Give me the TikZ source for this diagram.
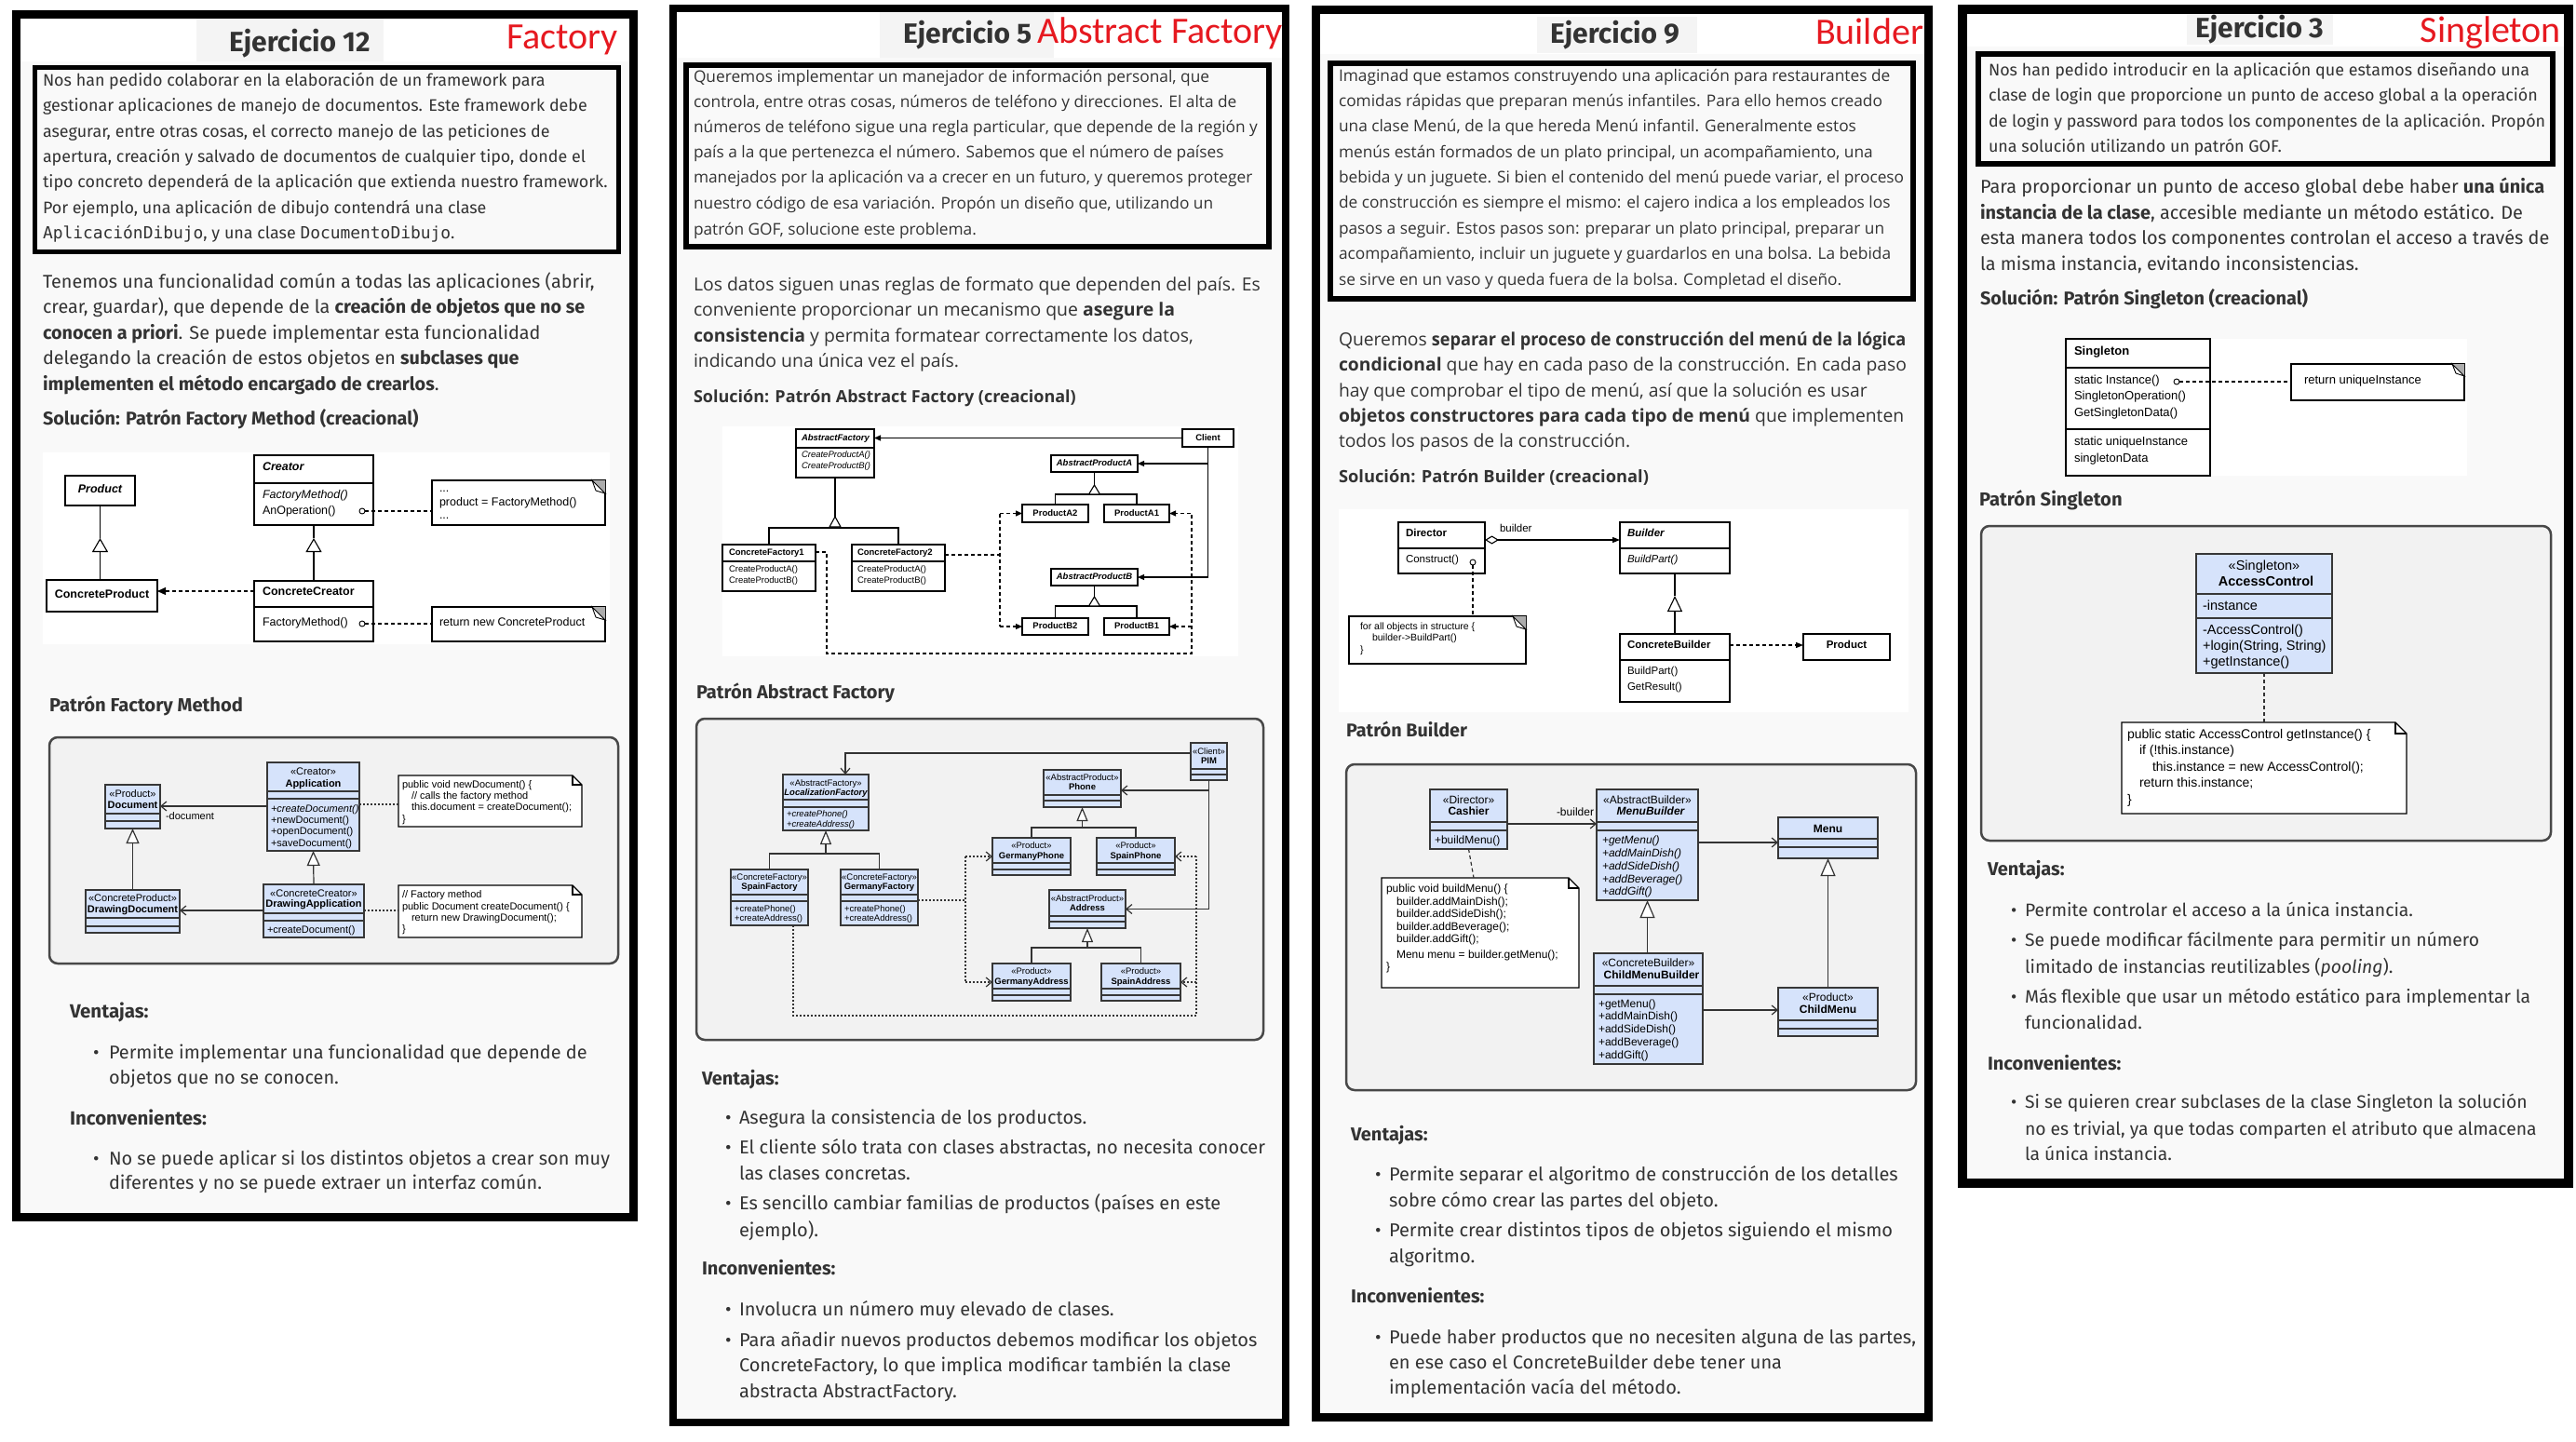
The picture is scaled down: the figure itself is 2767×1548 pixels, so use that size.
\documentclass[tikz,border=0pt]{standalone}
\usepackage{fontspec}
\usepackage{graphicx}
\usetikzlibrary{arrows.meta,fit}
\setmainfont{Fira Sans}
\setmonofont{DejaVu Sans Mono}
\newfontfamily\osans{Open Sans}
\newfontfamily\lsans{Liberation Sans}
\newfontfamily\carl{Carlito}
\definecolor{txt}{RGB}{51,51,51}
\definecolor{redl}{RGB}{230,25,32}
\definecolor{clsb}{RGB}{214,227,251}
\definecolor{clsd}{RGB}{55,55,55}
\definecolor{secg}{RGB}{249,249,249}
\definecolor{ttlg}{RGB}{244,244,244}
\definecolor{boxg}{RGB}{242,242,242}
\definecolor{boxd}{RGB}{72,72,72}
\newcommand\fs[1]{\fontsize{#1}{#1}\selectfont}
\newcounter{qtl}
\newcommand\qL[4][]{\stepcounter{qtl}\node[anchor=mid west,#1] (tl\theqtl) at (#2,#3) {#4};}
\newcommand\qC[4][]{\stepcounter{qtl}\node[anchor=mid,#1] (tl\theqtl) at (#2,#3) {#4};}
\newcommand\qR[4][]{\stepcounter{qtl}\node[anchor=mid east,#1] (tl\theqtl) at (#2,#3) {#4};}
\newcommand\qBL[4][]{\stepcounter{qtl}\node[anchor=base west,#1] (tl\theqtl) at (#2,#3) {#4};}
\newcommand\qBR[4][]{\stepcounter{qtl}\node[anchor=base east,#1] (tl\theqtl) at (#2,#3) {#4};}
\newcommand\qBI[4]{\qL{#1}{#3}{•}\qL{#2}{#3}{#4}}
\newcommand\qCB[6]{\node[#2,fit={(#3,#4)(#5,#6)}] (#1) {};}
\newcommand\qDV[3][dv]{\draw[#1] (#2.west |- 0,#3) -- (#2.east |- 0,#3);}
\newcommand\qTRI[4]{\draw[gln,fill=white] (#1,#2) -- ++(-#4,#3) -- ++(2*#4,0) -- cycle;}
\newcommand\qGN[6]{%
 \node[note,fit={(#2,#3)(#4,#5)}] (#1) {};%
 \pgfmathsetmacro\nxa{#4-#6}\pgfmathsetmacro\nyb{#3+#6}%
 \fill[gray!65] (\nxa,#3) -- (#4,#3) -- (#4,\nyb) -- cycle;%
 \draw[line width=0.9pt,fill=white] (\nxa,#3) -- (#4,\nyb) -- (\nxa+4,\nyb-3) -- cycle;}
\newcommand\qMN[6]{%
 \node[fit={(#2,#3)(#4,#5)}] (#1) {};%
 \pgfmathsetmacro\nxa{#4-#6}\pgfmathsetmacro\nyb{#3+#6}%
 \draw[note] (#2,#3) -- (\nxa,#3) -- (#4,\nyb) -- (#4,#5) -- (#2,#5) -- cycle;%
 \draw[line width=1.1pt] (\nxa,#3) -- (\nxa,\nyb) -- (#4,\nyb);}
\tikzset{
 gof/.style={draw=black,fill=white,line width=1.2pt},
 cls/.style={draw=clsd,fill=clsb,line width=1.2pt},
 gdv/.style={draw=black,line width=1.1pt},
 dv/.style={draw=clsd,line width=1.2pt},
 gln/.style={draw=black,line width=1.1pt},
 mln/.style={draw=black!80,line width=1.2pt},
 gdsh/.style={gln,dash pattern=on 4pt off 3pt},
 dotl/.style={mln,dash pattern=on 2pt off 2pt},
 dashM/.style={mln,dash pattern=on 4pt off 3pt},
 oarr/.style={-{Straight Barb[length=6pt,width=10pt]}},
 farr/.style={-{Triangle[length=7pt,width=6pt]}},
 assoc/.style={mln,oarr},
 genA/.style={gln,-{Triangle[open,fill=white,length=15pt,width=17pt]}},
 genB/.style={mln,-{Triangle[open,fill=white,length=16pt,width=14pt]}},
 genC/.style={mln,-{Triangle[open,fill=white,length=15pt,width=12pt]}},
 genD/.style={gln,-{Triangle[open,fill=white,length=17pt,width=16pt]}},
 genE/.style={mln,-{Triangle[open,fill=white,length=19pt,width=16pt]}},
 rbox/.style={draw=boxd,fill=boxg,line width=2.5pt,rounded corners=9pt},
 cir/.style={circle,draw=black,fill=white,line width=0.9pt,minimum size=6pt,inner sep=0pt},
 note/.style={draw=black,fill=white,line width=1.1pt},
}
\begin{document}
\begin{tikzpicture}[x=1pt,y=-1pt,every node/.style={inner sep=0pt,outer sep=0pt}]
\useasboundingbox (0,0) rectangle (2767,1548);
\fill[white] (0,0) rectangle (2767,1548);
% ---------- panel backgrounds ----------
\fill[secg] (22,66) rectangle (676,1303);
\fill[ttlg] (211,20) rectangle (412,66);
\fill[secg] (727,62) rectangle (1377,1524);
\fill[ttlg] (945,13) rectangle (1132,62);
\fill[secg] (1418,58) rectangle (2067,1518);
\fill[ttlg] (1651,18) rectangle (1823,57);
\fill[secg] (2113,50) rectangle (2754,1266);
\fill[ttlg] (2349,15) rectangle (2506,48);
% white diagram images
\fill[white] (46,486) rectangle (655,692);
\fill[white] (776,458) rectangle (1330,705);
\fill[white] (1438,547) rectangle (2050,765);
\fill[white] (2219,364) rectangle (2650,511);
% panel borders
\draw[line width=9pt] (17.5,15.5) rectangle (680.5,1307.5);
\draw[line width=8pt] (723,9) rectangle (1381,1528);
\draw[line width=9pt] (1413.5,10.5) rectangle (2071.5,1522.5);
\draw[line width=10pt] (2108,10) rectangle (2759,1271);
% description boxes
\draw[line width=5pt,fill=secg] (37.5,72.5) rectangle (664.5,270.5);
\draw[line width=6pt,fill=secg] (737,70) rectangle (1363,265);
\draw[line width=6pt,fill=secg] (1429,68) rectangle (2055,321);
\draw[line width=6pt,fill=secg] (2125,58) rectangle (2742,176);
% rounded diagram boxes
\draw[rbox] (53,792) rectangle (664,1035);
\draw[rbox] (748,772) rectangle (1357,1117);
\draw[rbox] (1446,821) rectangle (2058,1171);
\draw[rbox] (2128,565) rectangle (2740,903);

% ---------- titles ----------
\begin{scope}[every node/.append style={text=txt}]
\qBL[font=\bfseries\fs{30}]{246}{55}{Ejercicio 12}
\qBL[font=\bfseries\fs{30}]{970}{46}{Ejercicio 5}
\qBL[font=\bfseries\fs{30}]{1665}{46}{Ejercicio 9}
\qBL[font=\bfseries\fs{30}]{2358}{40}{Ejercicio 3}
\end{scope}
\begin{scope}[every node/.append style={text=redl}]
\qBR[font=\carl\fs{40}]{664}{52}{Factory}
\qBR[font=\carl\fs{40}]{1378}{46}{Abstract Factory}
\qBR[font=\carl\fs{40}]{2066}{47}{Builder}
\qBR[font=\carl\fs{40}]{2751}{45}{Singleton}
\end{scope}

% ================= PANEL 1 =================
\begin{scope}[font=\fs{17.9},every node/.append style={text=txt}]
\qL{46}{90}{Nos han pedido colaborar en la elaboración de un framework para}
\qL{46}{117}{gestionar aplicaciones de manejo de documentos. Este framework debe}
\qL{46}{145}{asegurar, entre otras cosas, el correcto manejo de las peticiones de}
\qL{46}{172}{apertura, creación y salvado de documentos de cualquier tipo, donde el}
\qL{46}{199}{tipo concreto dependerá de la aplicación que extienda nuestro framework.}
\qL{46}{227}{Por ejemplo, una aplicación de dibujo contendrá una clase}
\qL{46}{254}{\texttt{AplicaciónDibujo}, y una clase \texttt{DocumentoDibujo}.}
\end{scope}
\begin{scope}[font=\fs{19.8},every node/.append style={text=txt}]
\qL{46}{307}{Tenemos una funcionalidad común a todas las aplicaciones (abrir,}
\qL{46}{334}{crear, guardar), que depende de la \textbf{creación de objetos que no se}}
\qL{46}{362}{\textbf{conocen a priori}. Se puede implementar esta funcionalidad}
\qL{46}{389}{delegando la creación de estos objetos en \textbf{subclases que}}
\qL{46}{417}{\textbf{implementen el método encargado de crearlos}.}
\qL{46}{454}{\bfseries\fs{19.8}Solución: Patrón Factory Method (creacional)}
\qL{53}{762}{\bfseries\fs{20.2}Patrón Factory Method}
\end{scope}
% GoF factory method
\qCB{P1prod}{gof}{70}{511}{145}{543}
\qCB{P1cprod}{gof}{50}{623}{169}{657}
\qCB{P1crt}{gof}{273}{489}{401}{564}
\qDV[gdv]{P1crt}{519}
\qCB{P1ccrt}{gof}{273}{624}{401}{689}
\qDV[gdv]{P1ccrt}{652}
\qGN{P1n1}{464}{516}{650}{564}{14}
\qGN{P1n2}{464}{652}{650}{689}{14}
\begin{scope}[font=\lsans\fs{12.5}]
\qC{107.5}{527}{\bfseries\itshape Product}
\qC{109.5}{640}{\bfseries ConcreteProduct}
\qL{282}{503}{\bfseries\itshape Creator}
\qL{282}{533}{\itshape FactoryMethod()}
\qL{282}{550}{AnOperation()}
\qL{282}{637}{\bfseries ConcreteCreator}
\qL{282}{670}{FactoryMethod()}
\qL{472}{526}{...}
\qL{472}{541}{product = FactoryMethod()}
\qL{472}{555}{...}
\qL{472}{670}{return new ConcreteProduct}
\end{scope}
\draw[gln] (P1prod.south) -- (P1prod.south |- 0,578);
\draw[genA] (P1prod.south |- P1cprod.north) -- (P1prod.south |- 0,578);
\draw[gln] (P1crt.south) -- (P1crt.south |- 0,578);
\draw[genA] (P1ccrt.north) -- (P1crt.south |- 0,578);
\draw[gdsh,-{Triangle[length=9pt,width=8pt]}] (P1ccrt.west |- 0,635) -- (P1cprod.east |- 0,635);
\node[cir] (P1c1) at (389,549) {};
\node[cir] (P1c2) at (389,670) {};
\draw[gdsh] (P1c1.east) -- (P1n1.west |- P1c1.east);
\draw[gdsh] (P1c2.east) -- (P1n2.west |- P1c2.east);
% modern factory method
\qCB{P1doc}{cls}{113}{843}{172}{890}
\qDV{P1doc}{874}\qDV{P1doc}{882}
\qCB{P1app}{cls}{287}{819}{386}{914}
\qDV{P1app}{850}\qDV{P1app}{858}
\qCB{P1dd}{cls}{92}{956}{193}{1002}
\qDV{P1dd}{986}\qDV{P1dd}{995}
\qCB{P1da}{cls}{283}{950}{391}{1007}
\qDV{P1da}{981}\qDV{P1da}{989}
\qMN{P1na}{428}{833}{625}{888}{10}
\qMN{P1nb}{428}{951}{625}{1007}{10}
\begin{scope}[font=\lsans\fs{11}]
\qC{142.5}{854}{«Product»}
\qC{142.5}{866}{\bfseries Document}
\qC{336.5}{830}{«Creator»}
\qC{336.5}{843}{\bfseries Application}
\qL{291}{870}{\itshape +createDocument()}
\qL{291}{882}{+newDocument()}
\qL{291}{894}{+openDocument()}
\qL{291}{907}{+saveDocument()}
\qC{142.5}{966}{«ConcreteProduct»}
\qC{142.5}{978}{\bfseries DrawingDocument}
\qC{337}{961}{«ConcreteCreator»}
\qC{337}{972}{\bfseries DrawingApplication}
\qL{287}{1000}{+createDocument()}
\qL{178}{878}{-document}
\qL{432}{844}{public void newDocument() \{}
\qL{442}{856}{// calls the factory method}
\qL{442}{868}{this.document = createDocument();}
\qL{432}{881}{\}}
\qL{432}{962}{// Factory method}
\qL{432}{975}{public Document createDocument() \{}
\qL{442}{987}{return new DrawingDocument();}
\qL{432}{999}{\}}
\end{scope}
\draw[assoc] (P1app.west |- 0,866) -- (P1doc.east |- 0,866);
\draw[genB] (P1dd.north) -- (P1doc.south);
\draw[genB] (P1da.north) -- (P1app.south);
\draw[assoc] (P1da.west |- 0,978) -- (P1dd.east |- 0,978);
\draw[dotl] (P1app.east |- 0,864) -- (P1na.west |- 0,864);
\draw[dotl] (P1da.east |- 0,978) -- (P1nb.west |- 0,978);
\begin{scope}[font=\fs{19.9},every node/.append style={text=txt}]
\qL{75}{1091}{\bfseries\fs{20.5}Ventajas:}
\qBI{100}{117}{1135}{Permite implementar una funcionalidad que depende de}
\qL{117}{1162}{objetos que no se conocen.}
\qL{75}{1206}{\bfseries\fs{20.5}Inconvenientes:}
\qBI{100}{117}{1249}{No se puede aplicar si los distintos objetos a crear son muy}
\qL{117}{1275}{diferentes y no se puede extraer un interfaz común.}
\end{scope}

% ================= PANEL 2 =================
\begin{scope}[font=\osans\fs{17.3},every node/.append style={text=txt}]
\qL{745}{86}{Queremos implementar un manejador de información personal, que}
\qL{745}{113}{controla, entre otras cosas, números de teléfono y direcciones. El alta de}
\qL{745}{140}{números de teléfono sigue una regla particular, que depende de la región y}
\qL{745}{167}{país a la que pertenezca el número. Sabemos que el número de países}
\qL{745}{194}{manejados por la aplicación va a crecer en un futuro, y queremos proteger}
\qL{745}{222}{nuestro código de esa variación. Propón un diseño que, utilizando un}
\qL{745}{250}{patrón GOF, solucione este problema.}
\end{scope}
\begin{scope}[font=\osans\fs{19.4},every node/.append style={text=txt}]
\qL{745}{310}{Los datos siguen unas reglas de formato que dependen del país. Es}
\qL{745}{337}{conveniente proporcionar un mecanismo que \textbf{asegure la}}
\qL{745}{365}{\textbf{consistencia} y permita formatear correctamente los datos,}
\qL{745}{392}{indicando una única vez el país.}
\qL{745}{430}{\bfseries\fs{18}Solución: Patrón Abstract Factory (creacional)}
\end{scope}
\qL[font=\bfseries\fs{20},text=txt]{748}{748}{Patrón Abstract Factory}
% GoF abstract factory
\qCB{P2af}{gof}{855}{461}{939}{513}
\qDV[gdv]{P2af}{481}
\qCB{P2cl}{gof}{1270}{461}{1325}{480}
\qCB{P2apa}{gof}{1129}{489}{1222}{507}
\qCB{P2a2}{gof}{1098}{542}{1169}{561}
\qCB{P2a1}{gof}{1186}{542}{1256}{561}
\qCB{P2cf1}{gof}{776}{585}{876}{635}
\qDV[gdv]{P2cf1}{603}
\qCB{P2cf2}{gof}{915}{585}{1015}{635}
\qDV[gdv]{P2cf2}{603}
\qCB{P2apb}{gof}{1129}{611}{1222}{629}
\qCB{P2b2}{gof}{1098}{664}{1169}{682}
\qCB{P2b1}{gof}{1186}{664}{1256}{682}
\begin{scope}[font=\lsans\fs{9.5}]
\qL{861}{471}{\bfseries\itshape AbstractFactory}
\qL{861}{489}{\itshape CreateProductA()}
\qL{861}{501}{\itshape CreateProductB()}
\qC{1297.5}{470.5}{\bfseries Client}
\qC{1175.5}{498}{\bfseries\itshape AbstractProductA}
\qC{1133.5}{551.5}{\bfseries ProductA2}
\qC{1221}{551.5}{\bfseries ProductA1}
\qL{783}{594}{\bfseries ConcreteFactory1}
\qL{783}{612}{CreateProductA()}
\qL{783}{624}{CreateProductB()}
\qL{921}{594}{\bfseries ConcreteFactory2}
\qL{921}{612}{CreateProductA()}
\qL{921}{624}{CreateProductB()}
\qC{1175.5}{620}{\bfseries\itshape AbstractProductB}
\qC{1133.5}{673}{\bfseries ProductB2}
\qC{1221}{673}{\bfseries ProductB1}
\end{scope}
\draw[gln,farr] (P2cl.west) -- (P2af.east |- P2cl.west);
\draw[gln] (P2cl.south) -- (P2cl.south |- P2apb.east);
\draw[gln,farr] (P2cl.south |- P2apa.east) -- (P2apa.east);
\draw[gln,farr] (P2cl.south |- P2apb.east) -- (P2apb.east);
\draw[gln] (P2af.south) -- (P2af.south |- 0,567);
\draw[gln] (P2cf1.north) -- (P2cf1.north |- 0,567) -- (P2cf2.north |- 0,567) -- (P2cf2.north);
\qTRI{897}{555}{11}{6}
\draw[gln] (P2apa.south) -- (P2apa.south |- 0,531);
\draw[gln] (P2a2.north) -- (P2a2.north |- 0,531) -- (P2a1.north |- 0,531) -- (P2a1.north);
\qTRI{1175.5}{521}{10}{6}
\draw[gln] (P2apb.south) -- (P2apb.south |- 0,651);
\draw[gln] (P2b2.north) -- (P2b2.north |- 0,651) -- (P2b1.north |- 0,651) -- (P2b1.north);
\qTRI{1175.5}{641}{10}{6}
\coordinate (P2d1) at (888,702);
\coordinate (P2d2) at (1280,702);
\draw[gdsh,farr] (P2cf1.east |- 0,593) -| (P2d1) -- (P2d2) |- (P2a1.east);
\draw[gdsh,farr] (P2d2 |- P2b1.east) -- (P2b1.east);
\coordinate (P2d3) at (1074,596);
\draw[gdsh] (P2cf2.east |- P2d3) -- (P2d3);
\draw[gdsh] (P2d3 |- P2a2.west) -- (P2d3 |- P2b2.west);
\draw[gdsh,farr] (P2d3 |- P2a2.west) -- (P2a2.west);
\draw[gdsh,farr] (P2d3 |- P2b2.west) -- (P2b2.west);
% modern abstract factory
\qCB{P2pim}{cls}{1279}{798}{1318}{838}
\qDV{P2pim}{826}\qDV{P2pim}{832}
\qCB{P2lf}{cls}{841}{832}{933}{892}
\qDV{P2lf}{859}\qDV{P2lf}{867}
\qCB{P2ph}{cls}{1121}{827}{1204}{867}
\qDV{P2ph}{854}\qDV{P2ph}{860}
\qCB{P2gph}{cls}{1066}{900}{1150}{940}
\qDV{P2gph}{927}\qDV{P2gph}{934}
\qCB{P2sph}{cls}{1178}{900}{1262}{940}
\qDV{P2sph}{927}\qDV{P2sph}{934}
\qCB{P2sf}{cls}{785}{934}{868}{994}
\qDV{P2sf}{961}\qDV{P2sf}{968}
\qCB{P2gf}{cls}{903}{934}{986}{994}
\qDV{P2gf}{961}\qDV{P2gf}{968}
\qCB{P2ad}{cls}{1127}{956}{1209}{997}
\qDV{P2ad}{984}\qDV{P2ad}{990}
\qCB{P2gad}{cls}{1066}{1035}{1150}{1075}
\qDV{P2gad}{1062}\qDV{P2gad}{1069}
\qCB{P2sad}{cls}{1183}{1035}{1268}{1075}
\qDV{P2sad}{1062}\qDV{P2sad}{1069}
\begin{scope}[font=\lsans\fs{9.5}]
\qC{1298.5}{808}{«Client»}
\qC{1298.5}{818}{\bfseries PIM}
\qC{887}{842}{«AbstractFactory»}
\qC{887}{852}{\bfseries\itshape LocalizationFactory}
\qL{845}{875}{\itshape +createPhone()}
\qL{845}{886}{\itshape +createAddress()}
\qC{1162.5}{836}{«AbstractProduct»}
\qC{1162.5}{846}{\bfseries Phone}
\qC{1108}{909}{«Product»}
\qC{1108}{920}{\bfseries GermanyPhone}
\qC{1220}{909}{«Product»}
\qC{1220}{920}{\bfseries SpainPhone}
\qC{826.5}{943}{«ConcreteFactory»}
\qC{826.5}{953}{\bfseries SpainFactory}
\qL{789}{977}{+createPhone()}
\qL{789}{987}{+createAddress()}
\qC{944.5}{943}{«ConcreteFactory»}
\qC{944.5}{953}{\bfseries GermanyFactory}
\qL{907}{977}{+createPhone()}
\qL{907}{987}{+createAddress()}
\qC{1168}{966}{«AbstractProduct»}
\qC{1168}{976}{\bfseries Address}
\qC{1108}{1044}{«Product»}
\qC{1108}{1055}{\bfseries GermanyAddress}
\qC{1225.5}{1044}{«Product»}
\qC{1225.5}{1055}{\bfseries SpainAddress}
\end{scope}
\coordinate (P2k1) at (908,809);
\draw[assoc] (P2pim.west |- P2k1) -- (P2k1) -- (P2k1 |- P2lf.north);
\draw[assoc] (P2pim.south) -- (P2pim.south |- P2ad.east) -- (P2ad.east);
\draw[assoc] (P2pim.south |- 0,849) -- (P2ph.east |- 0,849);
\draw[genC] (P2lf.south |- 0,917) -- (P2lf.south);
\draw[mln] (P2sf.north) -- (P2sf.north |- 0,917) -- (P2gf.north |- 0,917) -- (P2gf.north);
\draw[genC] (P2ph.south |- 0,889) -- (P2ph.south);
\draw[mln] (P2gph.north) -- (P2gph.north |- 0,889) -- (P2sph.north |- 0,889) -- (P2sph.north);
\draw[genC] (P2ad.south |- 0,1018) -- (P2ad.south);
\draw[mln] (P2gad.north) -- (P2gad.north |- 0,1018) -- (P2sad.north |- 0,1018) -- (P2sad.north);
\coordinate (P2k2) at (1037,967);
\draw[dotl] (P2gf.east |- P2k2) -- (P2k2);
\draw[dotl] (P2k2 |- P2gph.west) -- (P2k2 |- P2gad.west);
\draw[dotl,oarr] (P2k2 |- P2gph.west) -- (P2gph.west);
\draw[dotl,oarr] (P2k2 |- P2gad.west) -- (P2gad.west);
\coordinate (P2k3) at (852,1091);
\coordinate (P2k4) at (1285,1091);
\draw[dotl] (P2k3 |- P2sf.south) -- (P2k3) -- (P2k4) -- (P2k4 |- P2sph.east);
\draw[dotl,oarr] (P2k4 |- P2sph.east) -- (P2sph.east);
\draw[dotl,oarr] (P2k4 |- P2sad.east) -- (P2sad.east);
\begin{scope}[font=\fs{20},every node/.append style={text=txt}]
\qL{754}{1163}{\bfseries Ventajas:}
\qBI{779}{794}{1205}{Asegura la consistencia de los productos.}
\qBI{779}{794}{1237}{El cliente sólo trata con clases abstractas, no necesita conocer}
\qL{794}{1265}{las clases concretas.}
\qBI{779}{794}{1297}{Es sencillo cambiar familias de productos (países en este}
\qL{794}{1326}{ejemplo).}
\qL{754}{1367}{\bfseries Inconvenientes:}
\qBI{779}{794}{1411}{Involucra un número muy elevado de clases.}
\qBI{779}{794}{1444}{Para añadir nuevos productos debemos modificar los objetos}
\qL{794}{1471}{ConcreteFactory, lo que implica modificar también la clase}
\qL{794}{1499}{abstracta AbstractFactory.}
\end{scope}

% ================= PANEL 3 =================
\begin{scope}[font=\osans\fs{17.3},every node/.append style={text=txt}]
\qL{1438}{85}{Imaginad que estamos construyendo una aplicación para restaurantes de}
\qL{1438}{112}{comidas rápidas que preparan menús infantiles. Para ello hemos creado}
\qL{1438}{139}{una clase Menú, de la que hereda Menú infantil. Generalmente estos}
\qL{1438}{167}{menús están formados de un plato principal, un acompañamiento, una}
\qL{1438}{194}{bebida y un juguete. Si bien el contenido del menú puede variar, el proceso}
\qL{1438}{221}{de construcción es siempre el mismo: el cajero indica a los empleados los}
\qL{1438}{249}{pasos a seguir. Estos pasos son: preparar un plato principal, preparar un}
\qL{1438}{276}{acompañamiento, incluir un juguete y guardarlos en una bolsa. La bebida}
\qL{1438}{304}{se sirve en un vaso y queda fuera de la bolsa. Completad el diseño.}
\end{scope}
\begin{scope}[font=\osans\fs{19.3},every node/.append style={text=txt}]
\qL{1438}{369}{Queremos \scalebox{0.94}[1]{\textbf{separar el proceso de construcción del menú de la lógica}}}
\qL{1438}{396}{\textbf{condicional} que hay en cada paso de la construcción. En cada paso}
\qL{1438}{424}{hay que comprobar el tipo de menú, así que la solución es usar}
\qL{1438}{451}{\textbf{objetos constructores para cada tipo de menú} que implementen}
\qL{1438}{478}{todos los pasos de la construcción.}
\qL{1438}{516}{\bfseries\fs{18.3}Solución: Patrón Builder (creacional)}
\end{scope}
\qL[font=\bfseries\fs{19.8},text=txt]{1446}{789}{Patrón Builder}
% GoF builder
\qCB{P3dir}{gof}{1502}{561}{1595}{616}
\qDV[gdv]{P3dir}{589}
\qCB{P3bld}{gof}{1740}{561}{1858}{616}
\qDV[gdv]{P3bld}{589}
\qCB{P3cb}{gof}{1740}{681}{1858}{754}
\qDV[gdv]{P3cb}{709}
\qCB{P3prod}{gof}{1937}{681}{2030}{709}
\qGN{P3n}{1449}{662}{1639}{713}{14}
\begin{scope}[font=\lsans\fs{11.5}]
\qL{1510}{574}{\bfseries Director}
\qL{1510}{602}{Construct()}
\qL{1748}{574}{\bfseries\itshape Builder}
\qL{1748}{602}{\itshape BuildPart()}
\qL{1748}{694}{\bfseries ConcreteBuilder}
\qL{1748}{722}{BuildPart()}
\qL{1748}{739}{GetResult()}
\qC{1983.5}{694}{\bfseries Product}
\qL{1611}{569}{builder}
\end{scope}
\begin{scope}[font=\lsans\fs{10.5}]
\qL{1461}{674}{for all objects in structure \{}
\qL{1474}{686}{builder->BuildPart()}
\qL{1461}{699}{\}}
\end{scope}
\node[cir] (P3cir) at (1582,604) {};
\draw[gln,{Diamond[open,fill=white,length=15pt,width=9pt]}-{Triangle[length=8pt,width=6pt]}] (P3dir.east |- 0,580) -- (P3bld.west |- 0,580);
\draw[gdsh] (P3cir.south) -- (P3cir.south |- P3n.north);
\draw[gln] (P3bld.south) -- (P3bld.south |- 0,640);
\draw[genD] (P3cb.north) -- (P3bld.south |- 0,640);
\draw[gdsh,-{Triangle[length=8pt,width=6pt]}] (P3cb.east |- 0,693) -- (P3prod.west |- 0,693);
% modern builder
\qCB{P3cas}{cls}{1536}{848}{1619}{912}
\qDV{P3cas}{883}\qDV{P3cas}{892}
\qCB{P3mb}{cls}{1715}{848}{1824}{967}
\qDV{P3mb}{883}\qDV{P3mb}{892}
\qCB{P3menu}{cls}{1910}{878}{2017}{922}
\qDV{P3menu}{901}\qDV{P3menu}{910}
\qMN{P3nt}{1484}{943}{1696}{1061}{11}
\qCB{P3cmb}{cls}{1712}{1024}{1829}{1143}
\qDV{P3cmb}{1059}\qDV{P3cmb}{1068}
\qCB{P3cm}{cls}{1910}{1061}{2017}{1113}
\qDV{P3cm}{1096}\qDV{P3cm}{1105}
\begin{scope}[font=\lsans\fs{12}]
\qC{1577.5}{861}{«Director»}
\qC{1577.5}{873}{\bfseries Cashier}
\qL{1541}{904}{+buildMenu()}
\qC{1769.5}{861}{«AbstractBuilder»}
\qC{1773}{873}{\bfseries\itshape MenuBuilder}
\qL{1721}{904}{\itshape +getMenu()}
\qL{1721}{918}{\itshape +addMainDish()}
\qL{1721}{932}{\itshape +addSideDish()}
\qL{1721}{946}{\itshape +addBeverage()}
\qL{1721}{959}{\itshape +addGift()}
\qC{1963.5}{892}{\bfseries Menu}
\qC{1770.5}{1036}{«ConcreteBuilder»}
\qC{1774}{1049}{\bfseries ChildMenuBuilder}
\qL{1717}{1080}{+getMenu()}
\qL{1717}{1093}{+addMainDish()}
\qL{1717}{1107}{+addSideDish()}
\qL{1717}{1121}{+addBeverage()}
\qL{1717}{1135}{+addGift()}
\qC{1963.5}{1073}{«Product»}
\qC{1963.5}{1086}{\bfseries ChildMenu}
\qR{1712}{874}{-builder}
\qL{1489}{956}{public void buildMenu() \{}
\qL{1500}{970}{builder.addMainDish();}
\qL{1500}{983}{builder.addSideDish();}
\qL{1500}{997}{builder.addBeverage();}
\qL{1500}{1010}{builder.addGift();}
\qL{1500}{1027}{Menu menu = builder.getMenu();}
\qL{1489}{1040}{\}}
\end{scope}
\draw[assoc] (P3cas.east |- 0,885) -- (P3mb.west |- 0,885);
\draw[assoc] (P3mb.east |- 0,905) -- (P3menu.west |- 0,905);
\draw[assoc] (P3cmb.east |- 0,1085) -- (P3cm.west |- 0,1085);
\draw[genE] (P3mb.south |- P3cmb.north) -- (P3mb.south);
\draw[genE] (P3cm.north) -- (P3menu.south);
\coordinate (P3k1) at (1583,943);
\draw[dashM] (P3cas.south) -- (P3k1);
\begin{scope}[font=\fs{20},every node/.append style={text=txt}]
\qL{1451}{1223}{\bfseries Ventajas:}
\qBI{1477}{1492}{1266}{Permite separar el algoritmo de construcción de los detalles}
\qL{1492}{1294}{sobre cómo crear las partes del objeto.}
\qBI{1477}{1492}{1326}{Permite crear distintos tipos de objetos siguiendo el mismo}
\qL{1492}{1354}{algoritmo.}
\qL{1451}{1397}{\bfseries Inconvenientes:}
\qBI{1477}{1492}{1441}{Puede haber productos que no necesiten alguna de las partes,}
\qL{1492}{1468}{en ese caso el ConcreteBuilder debe tener una}
\qL{1492}{1495}{implementación vacía del método.}
\end{scope}

% ================= PANEL 4 =================
\begin{scope}[font=\fs{17.9},every node/.append style={text=txt}]
\qL{2136}{79}{Nos han pedido introducir en la aplicación que estamos diseñando una}
\qL{2136}{106}{clase de login que proporcione un punto de acceso global a la operación}
\qL{2136}{134}{de login y password para todos los componentes de la aplicación. Propón}
\qL{2136}{161}{una solución utilizando un patrón GOF.}
\end{scope}
\begin{scope}[font=\fs{19.9},every node/.append style={text=txt}]
\qL{2127}{205}{Para proporcionar un punto de acceso global debe haber \textbf{una única}}
\qL{2127}{233}{\textbf{instancia de la clase}, accesible mediante un método estático. De}
\qL{2127}{260}{esta manera todos los componentes controlan el acceso a través de}
\qL{2127}{288}{la misma instancia, evitando inconsistencias.}
\qL{2127}{325}{\bfseries\fs{19.9}Solución: Patrón Singleton (creacional)}
\qL{2126}{541}{\bfseries\fs{20.2}Patrón Singleton}
\end{scope}
% GoF singleton
\qCB{P4s}{gof}{2219}{364}{2374}{511}
\qDV[gdv]{P4s}{395}\qDV[gdv]{P4s}{461}
\qGN{P4n}{2461}{391}{2647}{430}{13}
\begin{scope}[font=\lsans\fs{13}]
\qL{2228}{379}{\bfseries Singleton}
\qL{2228}{410}{static Instance()}
\qL{2228}{427}{SingletonOperation()}
\qL{2228}{445}{GetSingletonData()}
\qL{2228}{476}{static uniqueInstance}
\qL{2228}{494}{singletonData}
\qL{2475}{410}{return uniqueInstance}
\end{scope}
\node[cir] (P4cir) at (2338,410) {};
\draw[gdsh] (P4cir.east) -- (P4n.west |- P4cir.east);
% modern singleton
\qCB{P4ac}{cls}{2359}{595}{2505}{723}
\qDV{P4ac}{638}\qDV{P4ac}{664}
\qMN{P4nt}{2279}{776}{2585}{874}{12}
\begin{scope}[font=\lsans\fs{14.5}]
\qC{2432}{610}{«Singleton»}
\qC{2434}{627}{\bfseries AccessControl}
\qL{2366}{653}{-instance}
\qL{2366}{679}{-AccessControl()}
\qL{2366}{696}{+login(String, String)}
\qL{2366}{713}{+getInstance()}
\end{scope}
\begin{scope}[font=\lsans\fs{14}]
\qL{2285}{791}{public static AccessControl getInstance() \{}
\qL{2298}{808}{if (!this.instance)}
\qL{2312}{826}{this.instance = new AccessControl();}
\qL{2298}{843}{return this.instance;}
\qL{2285}{861}{\}}
\end{scope}
\draw[dashM] (P4ac.south) -- (P4ac.south |- P4nt.north);
\begin{scope}[font=\fs{19.3},every node/.append style={text=txt}]
\qL{2135}{938}{\bfseries\fs{20}Ventajas:}
\qBI{2160}{2175}{982}{Permite controlar el acceso a la única instancia.}
\qBI{2160}{2175}{1014}{Se puede modificar fácilmente para permitir un número}
\qL{2175}{1043}{limitado de instancias reutilizables (\textit{pooling}).}
\qBI{2160}{2175}{1075}{Más flexible que usar un método estático para implementar la}
\qL{2175}{1103}{funcionalidad.}
\qL{2135}{1147}{\bfseries\fs{20}Inconvenientes:}
\qBI{2160}{2175}{1188}{Si se quieren crear subclases de la clase Singleton la solución}
\qL{2175}{1217}{no es trivial, ya que todas comparten el atributo que almacena}
\qL{2175}{1244}{la única instancia.}
\end{scope}
\end{tikzpicture}
\end{document}
